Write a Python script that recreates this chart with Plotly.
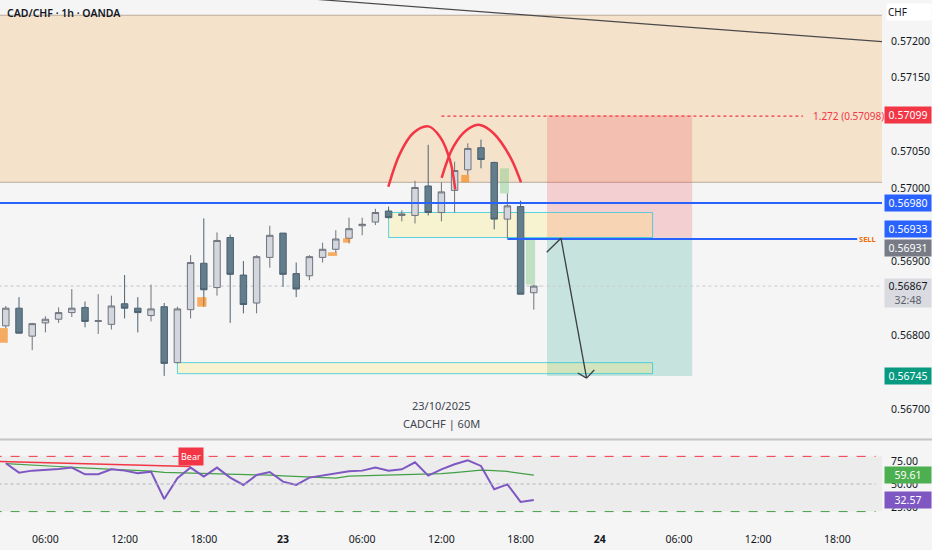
import pandas as pd
import plotly.graph_objects as go
from plotly.subplots import make_subplots

# CAD/CHF 1h, OANDA - candles from 22 Oct 03:00 to 23 Oct 19:00
opens = [0.56813, 0.56837, 0.56799, 0.56817, 0.56822, 0.56831, 0.56838, 0.56819, 0.56815, 0.56843,
         0.56837, 0.56827, 0.56839, 0.56763, 0.56835, 0.56898, 0.56865, 0.56933, 0.56882, 0.56844,
         0.56906, 0.56939, 0.56884, 0.56881, 0.56906, 0.56917, 0.56932, 0.56949, 0.56954, 0.56969,
         0.56963, 0.56963, 0.57003, 0.56967, 0.56997, 0.57025, 0.57055, 0.57035, 0.56958, 0.56975,
         0.56858]
highs = [0.56840, 0.56852, 0.56817, 0.56826, 0.56838, 0.56863, 0.56846, 0.56856, 0.56854, 0.56882,
         0.56852, 0.56869, 0.56844, 0.56839, 0.56909, 0.56959, 0.56940, 0.56937, 0.56901, 0.56909,
         0.56949, 0.56939, 0.56899, 0.56909, 0.56926, 0.56943, 0.56960, 0.56960, 0.56972, 0.56975,
         0.56970, 0.57010, 0.57059, 0.57008, 0.57036, 0.57061, 0.57066, 0.57036, 0.56993, 0.56983,
         0.56869]
lows = [0.56810, 0.56803, 0.56780, 0.56804, 0.56817, 0.56825, 0.56811, 0.56802, 0.56808, 0.56823,
        0.56804, 0.56819, 0.56745, 0.56762, 0.56823, 0.56839, 0.56854, 0.56817, 0.56830, 0.56830,
        0.56892, 0.56866, 0.56852, 0.56875, 0.56899, 0.56912, 0.56925, 0.56936, 0.56950, 0.56959,
        0.56955, 0.56952, 0.56963, 0.56955, 0.56967, 0.57018, 0.57027, 0.56944, 0.56932, 0.56856,
        0.56835]
closes = [0.56837, 0.56803, 0.56816, 0.56822, 0.56831, 0.56837, 0.56819, 0.56820, 0.56840, 0.56837,
          0.56831, 0.56836, 0.56762, 0.56836, 0.56899, 0.56862, 0.56929, 0.56883, 0.56842, 0.56907,
          0.56936, 0.56883, 0.56863, 0.56907, 0.56917, 0.56931, 0.56945, 0.56951, 0.56967, 0.56960,
          0.56965, 0.57001, 0.56967, 0.56995, 0.57024, 0.57054, 0.57039, 0.56958, 0.56976, 0.56856,
          0.56867]

rsi = [72.5, 62.3, 64.5, 65.2, 66.3, 67.8, 60.5, 60.5, 65.9, 64.5,
       61.6, 63.4, 33.7, 56.2, 67.8, 58.0, 67.8, 56.9, 48.9, 59.8,
       63.0, 52.5, 48.9, 56.9, 59.1, 61.6, 63.8, 64.5, 67.8, 64.5,
       65.9, 73.6, 59.1, 65.9, 71.4, 75.7, 69.6, 44.2, 49.6, 30.5,
       32.57]
rsi_ma = [72.1, 71.5, 70.8, 70.0, 69.0, 68.0, 67.3, 66.8, 66.0, 65.4,
          64.8, 63.9, 62.5, 62.2, 62.0, 61.8, 61.6, 61.0, 60.2, 60.0,
          59.6, 58.8, 58.0, 57.5, 57.2, 56.4, 58.5, 58.8, 59.1, 59.3,
          59.6, 60.1, 60.5, 61.2, 62.3, 63.5, 65.0, 64.5, 63.6, 61.5,
          59.61]

# drawn levels
zone_top, zone_bottom = 0.57235, 0.57008
level_blue = 0.56980
entry_price = 0.56933
sell_price = 0.56931
stop_price = 0.57099
fib_price = 0.57098
target_price = 0.56745
ob_upper = (0.56933, 0.56967)
ob_lower = (0.56748, 0.56763)

# ticks hidden behind the price labels are left out
price_ticks = [0.5670, 0.5675, 0.5680, 0.5690, 0.5700, 0.5705, 0.5715, 0.5720]
time_ticks = [-18, -12, -6, 0, 6, 12, 18, 24, 30, 36, 42]
time_labels = ["06:00", "12:00", "18:00", "<b>23</b>", "06:00", "12:00", "18:00", "<b>24</b>",
               "06:00", "12:00", "18:00"]

# hand-drawn pattern (hours from 23 Oct 00:00, price)
arc1_h = [7.98, 8.86, 9.87, 11.01, 11.89, 12.65, 13.05]
arc1_p = [0.57002, 0.57047, 0.57075, 0.57084, 0.57070, 0.57038, 0.56998]
arc2_h = [12.02, 12.90, 13.92, 14.92, 15.93, 17.20, 18.03]
arc2_p = [0.57014, 0.57056, 0.57079, 0.57086, 0.57075, 0.57043, 0.57008]

times = pd.date_range("2025-10-22 03:00", periods=len(opens), freq="h")
T0 = pd.Timestamp("2025-10-23 00:00")


def at(h):
    return T0 + pd.Timedelta(hours=h)


FONT = "Noto Sans"
RED = "#f23645"
BLUE = "#2962ff"
GREEN = "#089981"

fig = make_subplots(rows=2, cols=1, shared_xaxes=True, vertical_spacing=0.0)

fig.add_trace(go.Candlestick(
    x=times, open=opens, high=highs, low=lows, close=closes,
    increasing=dict(line=dict(color="#6f737d", width=1), fillcolor="#d3d6dc"),
    decreasing=dict(line=dict(color="#4d6170", width=1), fillcolor="#627d8c"),
    whiskerwidth=0, showlegend=False, hoverinfo="skip"), row=1, col=1)

for hs, ps in [(arc1_h, arc1_p), (arc2_h, arc2_p)]:
    fig.add_trace(go.Scatter(x=[at(h) for h in hs], y=ps, mode="lines",
                             line=dict(color=RED, width=2.5, shape="spline"),
                             showlegend=False, hoverinfo="skip"), row=1, col=1)

# RSI pane
fig.add_trace(go.Scatter(x=[at(-21.44), times[14]], y=[74.3, 69.0], mode="lines",
                         line=dict(color=RED, width=1.5), showlegend=False, hoverinfo="skip"),
              row=2, col=1)
fig.add_trace(go.Scatter(x=times, y=rsi_ma, mode="lines", line=dict(color="#43a047", width=1.2),
                         showlegend=False, hoverinfo="skip"), row=2, col=1)
fig.add_trace(go.Scatter(x=times, y=rsi, mode="lines", line=dict(color="#7e57c2", width=2),
                         showlegend=False, hoverinfo="skip"), row=2, col=1)

shapes = []


def rect(h0, h1, p0, p1, fill, line=None, layer="below", yref="y"):
    shapes.append(dict(type="rect", xref="x", yref=yref, x0=at(h0), x1=at(h1), y0=p0, y1=p1,
                       fillcolor=fill, line=dict(width=1 if line else 0, color=line or "rgba(0,0,0,0)"),
                       layer=layer))


def hline(h0, h1, p, color, width=1, dash="solid", layer="above", yref="y"):
    shapes.append(dict(type="line", xref="x", yref=yref, x0=at(h0), x1=at(h1), y0=p, y1=p,
                       line=dict(color=color, width=width, dash=dash), layer=layer))


def seg(h0, p0, h1, p1, color="#3a3e47", width=1.3):
    shapes.append(dict(type="line", xref="x", yref="y", x0=at(h0), x1=at(h1), y0=p0, y1=p1,
                       line=dict(color=color, width=width), layer="above"))


# supply zone
rect(-22, 46, zone_bottom, zone_top, "rgba(245,170,80,0.25)", "rgba(150,130,110,0.6)")
# short position tool
rect(20, 31, entry_price, stop_price, "rgba(242,54,69,0.2)")
rect(20, 31, target_price, entry_price, "rgba(8,153,129,0.2)")
# order blocks
rect(8, 28, ob_upper[0], ob_upper[1], "rgba(255,235,59,0.2)", "rgba(38,198,218,0.75)")
rect(-8, 28, ob_lower[0], ob_lower[1], "rgba(255,235,59,0.2)", "rgba(38,198,218,0.75)")
# small imbalance marks
rect(16.44, 17.12, 0.56993, 0.57027, "rgba(129,199,132,0.45)", layer="above")
rect(18.4, 19.1, 0.56869, 0.56931, "rgba(129,199,132,0.45)", layer="above")
for h0, h1, p0, p1 in [(-21.44, -20.85, 0.56790, 0.56810), (-6.5, -5.8, 0.56839, 0.56852),
                       (3.4, 4.1, 0.56908, 0.56913), (4.55, 5.1, 0.56926, 0.56932),
                       (13.5, 14.1, 0.57008, 0.57018)]:
    rect(h0, h1, p0, p1, "rgba(245,124,0,0.6)", layer="above")

# trend line
seg(0, 0.57260, 45.4, 0.57199, "#4a4a4a", 1.2)
# levels
hline(-22, 19.5, closes[-1], "#bfc2c8", 1, "dot", layer="below")
hline(19.5, 46, closes[-1], "#c9ccd2", 1, "dot", layer="below")
hline(-22, 46, level_blue, BLUE, 2)
hline(17, 43.5, sell_price, BLUE, 2)
hline(12, 39.4, fib_price, RED, 1.2, "dot")
# arrow
seg(19.98, 0.56913, 21.06, 0.56932)
seg(21.06, 0.56932, 23.0, 0.56742)
seg(22.33, 0.56749, 23.0, 0.56742)
seg(23.58, 0.56753, 23.0, 0.56742)

# RSI bands
rect(-22, 46, 20, 80, "rgba(0,0,0,0.035)", yref="y2")
hline(-22, 44.9, 80, RED, 1, "dash", yref="y2")
hline(-22, 44.9, 50, "#b2b5be", 1, "dot", yref="y2")
hline(-22, 44.9, 20, "#43a047", 1, "dash", yref="y2")

# pane separator
shapes.append(dict(type="line", xref="paper", yref="paper", x0=0, x1=1.06, y0=0.1613, y1=0.1613,
                   line=dict(color="#c4c4c4", width=2)))

annotations = []


def axis_label(y, text, bg, color="white", yref="y", height=None):
    annotations.append(dict(xref="paper", x=1, xanchor="left", xshift=2, yref=yref, y=y,
                            text=text, showarrow=False, bgcolor=bg, width=44, height=height,
                            font=dict(family=FONT, size=10.5, color=color), borderpad=1))


axis_label(stop_price, "0.57099", RED)
axis_label(level_blue, "0.56980", BLUE)
axis_label(entry_price + 0.00011, "0.56933", BLUE)
axis_label(sell_price - 0.00012, "0.56931", "#787b86")
axis_label(closes[-1] - 0.00010, "0.56867<br><span style='color:#5d606b'>32:48</span>", "#d9dbe0",
           "#131722", height=26)
axis_label(target_price, "0.56745", GREEN)
axis_label(59.61, "59.61", "#4caf50", yref="y2")
axis_label(32.57, "32.57", "#7e57c2", yref="y2")

annotations += [
    dict(xref="paper", x=1, xanchor="left", xshift=4, yref="paper", y=1, yanchor="top", yshift=-3,
         text="CHF", showarrow=False, bgcolor="white", width=42, align="left",
         font=dict(family=FONT, size=10, color="#131722")),
    dict(xref="paper", x=0, xanchor="left", xshift=5, yref="paper", y=1, yanchor="top", yshift=-4,
         text="CAD/CHF · 1h · OANDA", showarrow=False,
         font=dict(family=FONT, size=10.5, color="#131722", weight=600)),
    dict(xref="paper", x=1, xanchor="right", xshift=-4, yref="y", y=sell_price,
         text="SELL", showarrow=False, font=dict(family=FONT, size=7.5, color="#ef6c00", weight=700)),
    dict(xref="x", x=at(40.0), xanchor="left", yref="y", y=fib_price, text="1.272 (0.57098)",
         showarrow=False, font=dict(family=FONT, size=10, color=RED)),
    dict(xref="x", x=at(12), yref="y", y=0.567054, text="23/10/2025", showarrow=False,
         font=dict(family=FONT, size=11, color="#434651")),
    dict(xref="x", x=at(12), yref="y", y=0.566810, text="CADCHF | 60M", showarrow=False,
         font=dict(family=FONT, size=11, color="#434651")),
    dict(xref="x", x=times[14], yref="y2", y=79.9, text="Bear", showarrow=False, bgcolor=RED,
         font=dict(family=FONT, size=9, color="white"), borderpad=2),
]

x_range = [at(-21.44), at(45.38)]

fig.update_layout(
    width=932, height=550,
    margin=dict(l=0, r=50, t=0, b=26),
    paper_bgcolor="#f5f5f5", plot_bgcolor="#f5f5f5",
    shapes=shapes, annotations=annotations,
    showlegend=False, hovermode=False,
    font=dict(family=FONT, size=10.5, color="#131722"),
    xaxis=dict(range=x_range, showticklabels=False, showgrid=False, zeroline=False,
               rangeslider=dict(visible=False)),
    xaxis2=dict(range=x_range, showgrid=False, zeroline=False,
                tickvals=[at(h) for h in time_ticks], ticktext=time_labels,
                ticks="outside", ticklen=5, tickcolor="rgba(0,0,0,0)",
                tickfont=dict(family=FONT, size=10.5, color="#131722")),
    yaxis=dict(domain=[0.1641, 1], range=[0.566606, 0.572557], side="right",
               tickvals=price_ticks, tickformat=".5f", showgrid=False, zeroline=False,
               ticks="outside", ticklen=6, tickcolor="rgba(0,0,0,0)",
               tickfont=dict(family=FONT, size=10.5, color="#131722")),
    yaxis2=dict(domain=[0, 0.1584], range=[6.5, 96.7], side="right",
                tickvals=[25, 50, 75], tickformat=".2f", showgrid=False, zeroline=False,
                ticks="outside", ticklen=6, tickcolor="rgba(0,0,0,0)",
                tickfont=dict(family=FONT, size=10.5, color="#131722")),
)

# drop the browser's default page margin so the 932x550 figure fills the window
fig.write_html("out.html", config={"displayModeBar": False},
               post_script="document.body.style.margin='0';")
